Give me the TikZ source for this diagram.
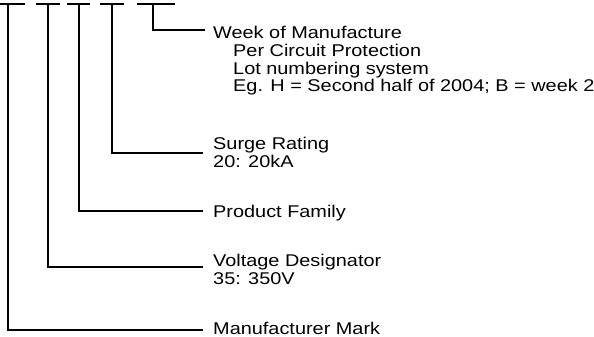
\documentclass[tikz,border=0pt]{standalone}
\usepackage{fontspec}
\setmainfont{Liberation Sans}[FakeStretch=1.17]
\begin{document}
\begin{tikzpicture}[x=1pt,y=-1pt,
  bar/.style={line width=2.6pt},
  conn/.style={line width=1.4pt},
  lbl/.style={anchor=base west, inner sep=0pt, font=\fontsize{17}{18}\selectfont}]
\useasboundingbox (0,0) rectangle (594,337);
% code dashes
\coordinate (a1) at (0,4);   \coordinate (b1) at (25,4);
\coordinate (a2) at (36,4);  \coordinate (b2) at (60,4);
\coordinate (a3) at (67,4);  \coordinate (b3) at (90,4);
\coordinate (a4) at (100,4); \coordinate (b4) at (124,4);
\coordinate (a5) at (137,4); \coordinate (b5) at (175,4);
\foreach \i in {1,...,5} \draw[bar] (a\i) -- (b\i);
% connector starts and ends
\coordinate (t1) at (8,4);   \coordinate (e1) at (203,330);
\coordinate (t2) at (48,4);  \coordinate (e2) at (203,267);
\coordinate (t3) at (79,4);  \coordinate (e3) at (203,211);
\coordinate (t4) at (112,4); \coordinate (e4) at (203,153);
\coordinate (t5) at (153,4); \coordinate (e5) at (205,30);
\foreach \i in {1,...,5} \draw[conn] (t\i) |- (e\i);
% labels
\node[lbl] (wk1) at (213,39) {Week of Manufacture};
\node[lbl] (wk2) at (233,56.7) {Per Circuit Protection};
\node[lbl] (wk3) at (233,74.4) {Lot numbering system};
\node[lbl] (wk4) at (233,92) {Eg. H = Second half of 2004; B = week 2};
\node[lbl] (sr1) at (213,149) {Surge Rating};
\node[lbl] (sr2) at (213,167) {20: 20kA};
\node[lbl] (pf1) at (213,217) {Product Family};
\node[lbl] (vd1) at (213,266) {Voltage Designator};
\node[lbl] (vd2) at (213,284) {35: 350V};
\node[lbl] (mm1) at (213,334) {Manufacturer Mark};
\end{tikzpicture}
\end{document}
